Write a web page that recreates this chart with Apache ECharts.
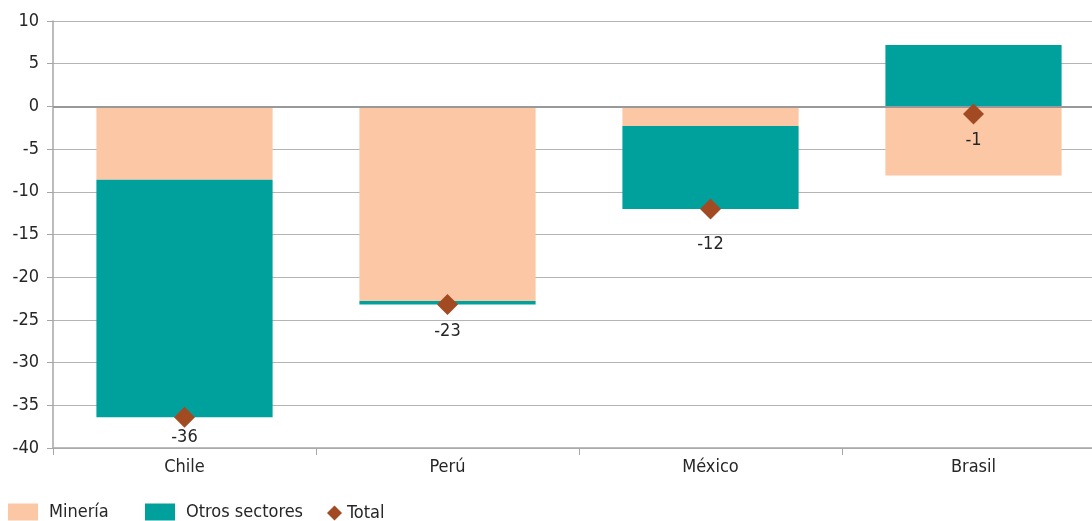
<!DOCTYPE html>
<html><head><meta charset="utf-8">
<script src="https://cdn.jsdelivr.net/npm/echarts@6/dist/echarts.min.js"></script>
<style>html,body{margin:0;padding:0;background:#fff}#c{width:1092px;height:521px}</style>
</head><body><div id="c"></div>
<script>
const categories = ['Chile', 'Perú', 'México', 'Brasil'];
const mineria = [-8.6, -22.8, -2.3, -8.1];
const otros = [-27.8, -0.4, -9.7, 7.2];
const total = [-36.4, -23.2, -12.0, -0.9];
const totalLabels = ['-36', '-23', '-12', '-1'];
const yTicks = [-40, -35, -30, -25, -20, -15, -10, -5, 0, 5, 10];

const FONT = '"DejaVu Sans Condensed", "DejaVu Sans", sans-serif';
const FS = 18;
const TXT = '#262626';
const labelShiftY = [-6, 0, 9, 0];
const legendText = { fontFamily: FONT, fontSize: FS, color: TXT, padding: [0, 0, 0, 6] };

const chart = echarts.init(document.getElementById('c'));
chart.setOption({
  animation: false,
  textStyle: { fontFamily: FONT, color: TXT },
  grid: { left: 53, width: 1052, top: 21, bottom: 73, outerBoundsMode: 'none', containLabel: false },
  legend: [{
    left: 8, top: 503, padding: 0, itemWidth: 30, itemHeight: 17, textStyle: legendText,
    data: [{ name: 'Minería', icon: 'rect' }]
  }, {
    left: 145, top: 503, padding: 0, itemWidth: 30, itemHeight: 17, textStyle: legendText,
    data: [{ name: 'Otros sectores', icon: 'rect' }]
  }, {
    left: 327, top: 504, padding: 0, itemWidth: 15, itemHeight: 15,
    textStyle: { fontFamily: FONT, fontSize: FS, color: TXT, padding: [0, 0, 0, 0] },
    data: [{ name: 'Total', icon: 'diamond' }]
  }],
  xAxis: {
    type: 'category', data: categories,
    axisLine: { show: true, onZero: false, lineStyle: { color: '#a6a6a6', width: 1.5 } },
    axisTick: { show: true, length: 7, lineStyle: { color: '#a6a6a6' } },
    axisLabel: { fontFamily: FONT, fontSize: FS, color: TXT, margin: 10 }
  },
  yAxis: {
    type: 'value', min: -40, max: 10, interval: 5,
    axisLine: { show: true, lineStyle: { color: '#a6a6a6', width: 1.5 } },
    axisTick: { show: true, length: 6, lineStyle: { color: '#a6a6a6' } },
    axisLabel: { fontFamily: FONT, fontSize: FS, color: TXT, margin: 14,
      formatter: v => yTicks.includes(v) ? String(v) : '' },
    splitLine: { show: true, lineStyle: { color: '#b4b4b4', width: 1 } }
  },
  series: [{
    name: 'Minería', type: 'bar', stack: 'a', barWidth: '67%',
    itemStyle: { color: '#FBC7A4' }, data: mineria,
    markLine: { silent: true, symbol: 'none', label: { show: false },
      lineStyle: { color: '#999999', width: 2, type: 'solid' }, data: [{ yAxis: 0 }] }
  }, {
    name: 'Otros sectores', type: 'bar', stack: 'a', barWidth: '67%',
    itemStyle: { color: '#00A19D' }, data: otros
  }, {
    name: 'Total', type: 'scatter', symbol: 'diamond', symbolSize: [21, 21],
    itemStyle: { color: '#A24A22', opacity: 1 }, z: 5,
    data: total,
    label: { show: true, position: 'bottom', distance: 7, fontFamily: FONT, fontSize: FS,
      color: TXT, formatter: p => totalLabels[p.dataIndex] },
    labelLayout: p => ({ dy: labelShiftY[p.dataIndex] })
  }]
});
</script></body></html>
